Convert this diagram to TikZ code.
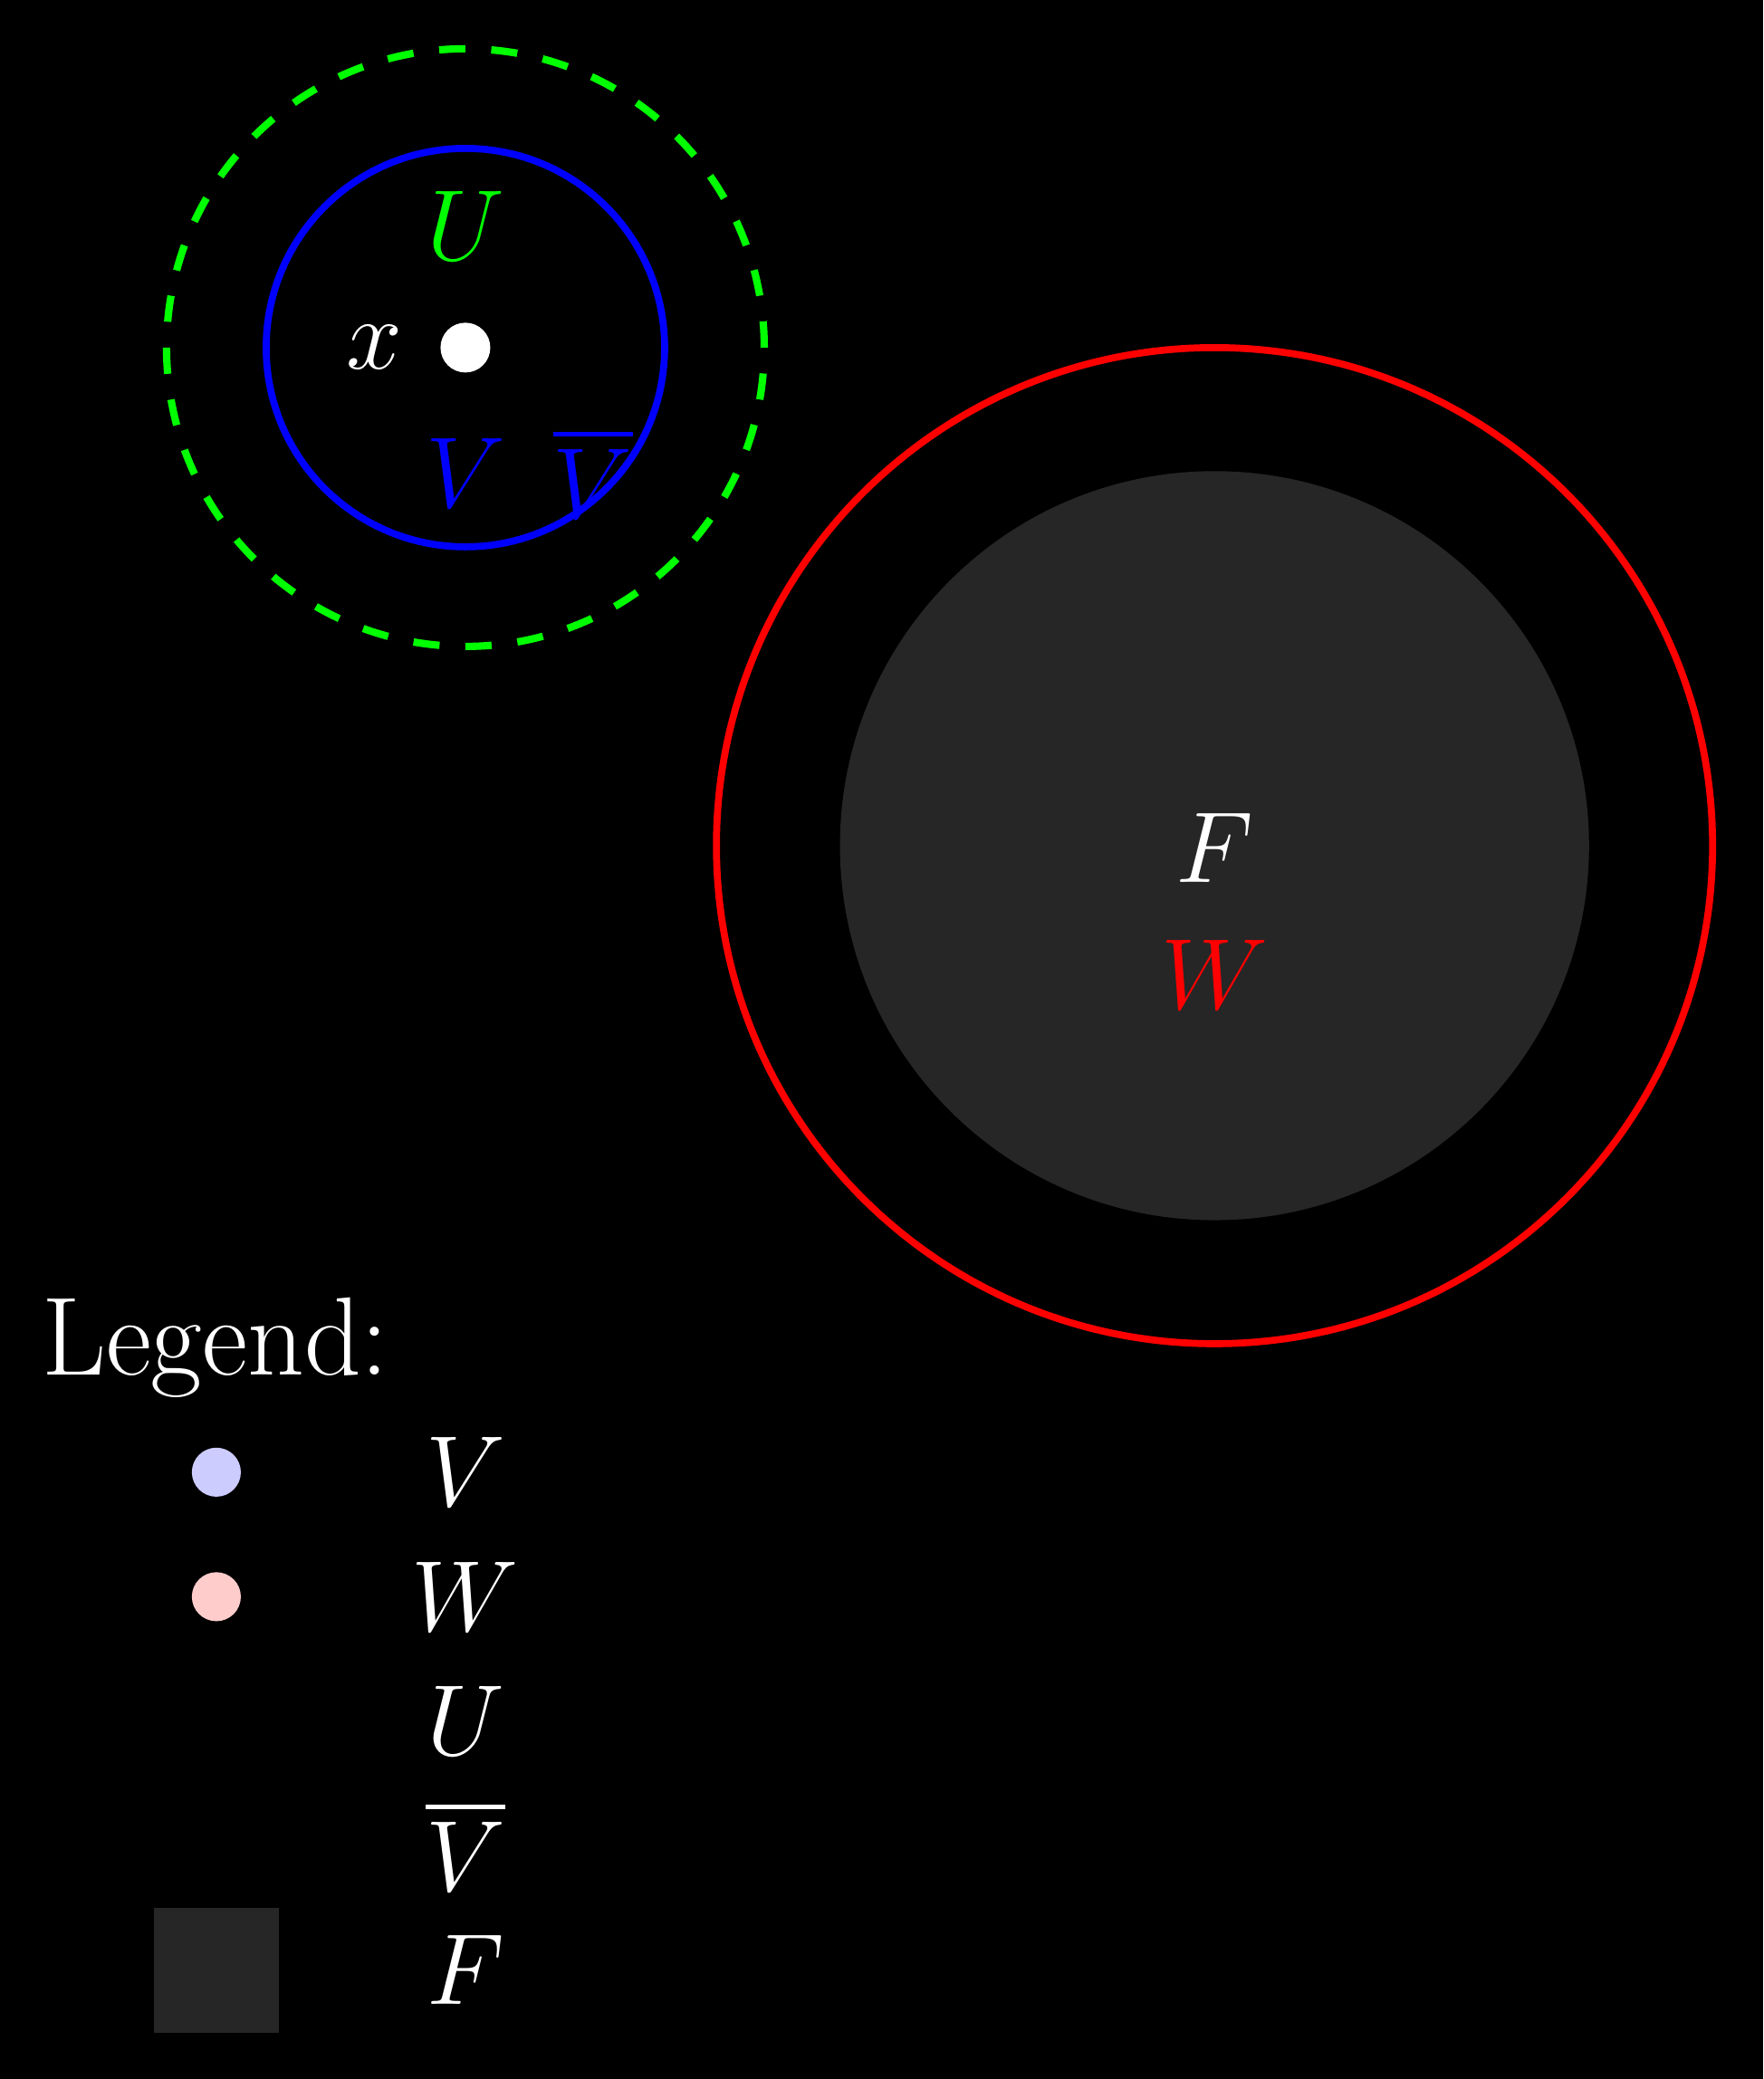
\documentclass[tikz,border=0pt]{standalone}
\usepackage{amsmath,amssymb}
\usepackage{tikz}
\usetikzlibrary{positioning}
\usepackage{xcolor}
\definecolor{fgray}{RGB}{38,38,38}

\begin{document}
\begin{tikzpicture}[
    lbl/.style={font=\fontsize{15.2}{18}\selectfont},
    title/.style={font=\fontsize{15.9}{19}\selectfont},
    ring/.style={line width=1pt}]
  % frame and background
  \useasboundingbox (-2.336,-8.691) rectangle (6.514,1.745);
  \fill[black] (-2.336,-8.691) rectangle (6.514,1.745);
  \coordinate (X) at (0,0);
  \coordinate (Fc) at (3.76,-2.5);
  % neighbourhoods of x
  \draw[ring,green,dash pattern=on 3.75pt off 3.7pt,line width=1.05pt] (X) circle (1.5);
  \draw[ring,blue] (X) circle (1);
  \node[circle,fill=white,inner sep=0pt,minimum size=0.25cm] (xpt) at (X) {};
  \node[lbl,white,left=0.06cm of xpt] (xlab) {$x$};
  \node[lbl,green] (ulab) at (0,0.61) {$U$};
  \node[lbl,blue] (vlab) at (0,-0.63) {$V$};
  \node[lbl,blue] (vbarlab) at (0.64,-0.63) {$\overline{V}$};
  % closed set F inside W
  \fill[fgray] (Fc) circle (1.88);
  \draw[ring,red] (Fc) circle (2.5);
  \node[lbl,white] (flab) at (3.76,-2.51) {$F$};
  \node[lbl,red] (wlab) at (3.76,-3.15) {$W$};
  % legend
  \node[title,white,anchor=west] (legend) at (-2.25,-5.02) {Legend:};
  \fill[blue!20] (-1.25,-5.645) circle (0.123);
  \node[lbl,white] (legV) at (0,-5.645) {$V$};
  \fill[red!20] (-1.25,-6.27) circle (0.123);
  \node[lbl,white] (legW) at (0,-6.27) {$W$};
  \node[lbl,white] (legU) at (0,-6.895) {$U$};
  \node[lbl,white] (legVbar) at (0,-7.52) {$\overline{V}$};
  \fill[fgray] (-1.564,-8.46) rectangle (-0.936,-7.83);
  \node[lbl,white] (legF) at (0,-8.145) {$F$};
\end{tikzpicture}
\end{document}
